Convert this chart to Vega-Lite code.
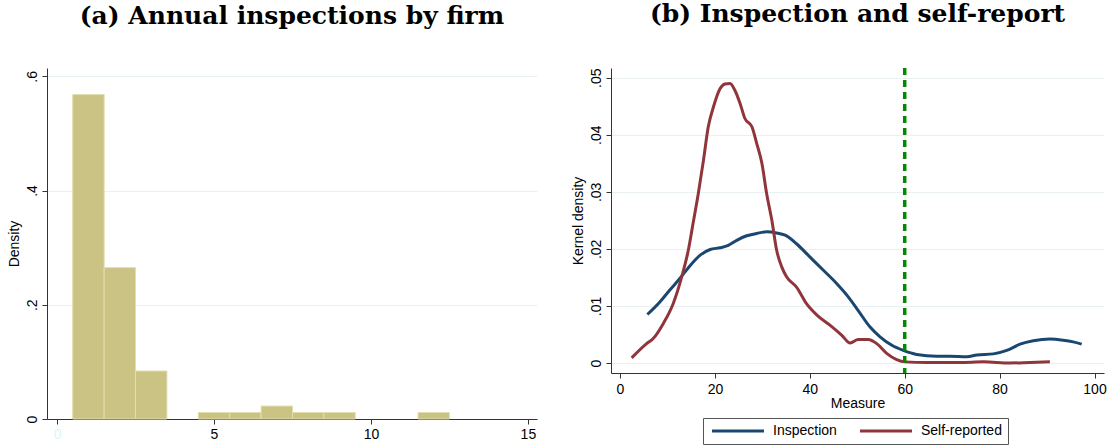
{
  "$schema": "https://vega.github.io/schema/vega-lite/v6.json",
  "background": "white",
  "padding": {"top": 2, "left": 6, "right": 0, "bottom": 0},
  "spacing": 33,
  "config": {
    "view": {"stroke": null},
    "axis": {
      "domainColor": "#333333",
      "tickColor": "#333333",
      "tickSize": 5,
      "labelFont": "Liberation Sans",
      "labelFontSize": 14,
      "labelColor": "#000000",
      "titleFont": "Liberation Sans",
      "titleFontSize": 14,
      "titleFontWeight": "normal",
      "titleColor": "#000000",
      "gridColor": "#e8f0f2",
      "gridWidth": 1.2
    },
    "title": {
      "font": "DejaVu Serif",
      "fontSize": 25,
      "fontWeight": "bold",
      "color": "#000000",
      "offset": 39,
      "baseline": "alphabetic",
      "anchor": "middle"
    }
  },
  "hconcat": [
    {
      "title": {"text": "(a) Annual inspections by firm"},
      "width": 490,
      "height": 351,
      "data": {
        "values": [
          {"bin_start": 0.5, "bin_end": 1.5, "density": 0.568},
          {"bin_start": 1.5, "bin_end": 2.5, "density": 0.265},
          {"bin_start": 2.5, "bin_end": 3.5, "density": 0.084},
          {"bin_start": 4.5, "bin_end": 5.5, "density": 0.0114},
          {"bin_start": 5.5, "bin_end": 6.5, "density": 0.0114},
          {"bin_start": 6.5, "bin_end": 7.5, "density": 0.0227},
          {"bin_start": 7.5, "bin_end": 8.5, "density": 0.0114},
          {"bin_start": 8.5, "bin_end": 9.5, "density": 0.0114},
          {"bin_start": 11.5, "bin_end": 12.5, "density": 0.0114}
        ]
      },
      "mark": {"type": "rect", "fill": "#cac383", "stroke": "#e2dead", "strokeWidth": 1},
      "encoding": {
        "x": {
          "field": "bin_start",
          "type": "quantitative",
          "scale": {"domain": [-0.32, 15.29], "nice": false, "zero": false},
          "axis": {
            "values": [0, 5, 10, 15],
            "grid": false,
            "title": null,
            "labelPadding": 3,
            "labelColor": {"condition": {"test": "datum.value == 0", "value": "#d8f8f8"}, "value": "#000000"}
          }
        },
        "x2": {"field": "bin_end"},
        "y": {
          "field": "density",
          "type": "quantitative",
          "scale": {"domain": [0, 0.6145], "nice": false},
          "axis": {
            "values": [0, 0.2, 0.4, 0.6],
            "grid": true,
            "title": "Density",
            "titlePadding": 4,
            "labelAngle": 270,
            "labelAlign": "center",
            "labelBaseline": "bottom",
            "labelPadding": 3,
            "labelExpr": "datum.value == 0 ? '0' : substring(format(datum.value, '.2~f'), 1)"
          }
        },
        "y2": {"datum": 0}
      }
    },
    {
      "title": {"text": "(b) Inspection and self-report"},
      "width": 493,
      "height": 305,
      "layer": [
        {
          "data": {
            "values": [
              {"series": "Inspection", "x": 5.76, "y": 0.0085},
              {"series": "Inspection", "x": 8.4, "y": 0.0107},
              {"series": "Inspection", "x": 10.5, "y": 0.0128},
              {"series": "Inspection", "x": 12.6, "y": 0.0148},
              {"series": "Inspection", "x": 14.8, "y": 0.0171},
              {"series": "Inspection", "x": 16.9, "y": 0.0189},
              {"series": "Inspection", "x": 19.0, "y": 0.0199},
              {"series": "Inspection", "x": 21.1, "y": 0.0202},
              {"series": "Inspection", "x": 22.8, "y": 0.0206},
              {"series": "Inspection", "x": 24.6, "y": 0.0215},
              {"series": "Inspection", "x": 26.7, "y": 0.0223},
              {"series": "Inspection", "x": 28.8, "y": 0.0227},
              {"series": "Inspection", "x": 30.9, "y": 0.023},
              {"series": "Inspection", "x": 33.0, "y": 0.0228},
              {"series": "Inspection", "x": 34.8, "y": 0.0224},
              {"series": "Inspection", "x": 37.2, "y": 0.0209},
              {"series": "Inspection", "x": 40.0, "y": 0.0186},
              {"series": "Inspection", "x": 42.8, "y": 0.0163},
              {"series": "Inspection", "x": 45.7, "y": 0.0139},
              {"series": "Inspection", "x": 48.1, "y": 0.0116},
              {"series": "Inspection", "x": 50.2, "y": 0.0092},
              {"series": "Inspection", "x": 52.7, "y": 0.0063},
              {"series": "Inspection", "x": 54.8, "y": 0.0046},
              {"series": "Inspection", "x": 57.3, "y": 0.0031},
              {"series": "Inspection", "x": 59.7, "y": 0.0022},
              {"series": "Inspection", "x": 62.5, "y": 0.0015},
              {"series": "Inspection", "x": 66.7, "y": 0.0012},
              {"series": "Inspection", "x": 69.5, "y": 0.0012},
              {"series": "Inspection", "x": 73.1, "y": 0.0011},
              {"series": "Inspection", "x": 75.2, "y": 0.0014},
              {"series": "Inspection", "x": 78.7, "y": 0.0016},
              {"series": "Inspection", "x": 81.5, "y": 0.0022},
              {"series": "Inspection", "x": 84.3, "y": 0.0033},
              {"series": "Inspection", "x": 87.1, "y": 0.0039},
              {"series": "Inspection", "x": 90.6, "y": 0.0042},
              {"series": "Inspection", "x": 93.4, "y": 0.004},
              {"series": "Inspection", "x": 95.5, "y": 0.0037},
              {"series": "Inspection", "x": 97.3, "y": 0.0033},
              {"series": "Self-reported", "x": 2.46, "y": 0.0009},
              {"series": "Self-reported", "x": 5.6, "y": 0.0034},
              {"series": "Self-reported", "x": 7.0, "y": 0.0043},
              {"series": "Self-reported", "x": 9.1, "y": 0.0069},
              {"series": "Self-reported", "x": 11.2, "y": 0.0104},
              {"series": "Self-reported", "x": 13.0, "y": 0.0151},
              {"series": "Self-reported", "x": 14.4, "y": 0.0198},
              {"series": "Self-reported", "x": 15.4, "y": 0.0245},
              {"series": "Self-reported", "x": 16.5, "y": 0.0297},
              {"series": "Self-reported", "x": 17.6, "y": 0.0356},
              {"series": "Self-reported", "x": 18.6, "y": 0.0414},
              {"series": "Self-reported", "x": 19.7, "y": 0.0449},
              {"series": "Self-reported", "x": 21.1, "y": 0.0481},
              {"series": "Self-reported", "x": 22.1, "y": 0.0489},
              {"series": "Self-reported", "x": 23.2, "y": 0.049},
              {"series": "Self-reported", "x": 24.2, "y": 0.0478},
              {"series": "Self-reported", "x": 25.3, "y": 0.0455},
              {"series": "Self-reported", "x": 26.3, "y": 0.0429},
              {"series": "Self-reported", "x": 27.8, "y": 0.0414},
              {"series": "Self-reported", "x": 28.8, "y": 0.0385},
              {"series": "Self-reported", "x": 29.9, "y": 0.035},
              {"series": "Self-reported", "x": 30.9, "y": 0.0297},
              {"series": "Self-reported", "x": 32.0, "y": 0.025},
              {"series": "Self-reported", "x": 33.0, "y": 0.0198},
              {"series": "Self-reported", "x": 34.1, "y": 0.0168},
              {"series": "Self-reported", "x": 35.1, "y": 0.0151},
              {"series": "Self-reported", "x": 37.2, "y": 0.0133},
              {"series": "Self-reported", "x": 39.3, "y": 0.0104},
              {"series": "Self-reported", "x": 41.5, "y": 0.0084},
              {"series": "Self-reported", "x": 44.3, "y": 0.0066},
              {"series": "Self-reported", "x": 46.7, "y": 0.0049},
              {"series": "Self-reported", "x": 48.5, "y": 0.0035},
              {"series": "Self-reported", "x": 50.2, "y": 0.0041},
              {"series": "Self-reported", "x": 52.3, "y": 0.0041},
              {"series": "Self-reported", "x": 54.1, "y": 0.0034},
              {"series": "Self-reported", "x": 56.2, "y": 0.0017},
              {"series": "Self-reported", "x": 58.3, "y": 0.0006},
              {"series": "Self-reported", "x": 60.1, "y": 0.0002},
              {"series": "Self-reported", "x": 64.6, "y": 0.0001},
              {"series": "Self-reported", "x": 71.7, "y": 0.0001},
              {"series": "Self-reported", "x": 76.6, "y": 0.0002},
              {"series": "Self-reported", "x": 82.2, "y": 0.0},
              {"series": "Self-reported", "x": 86.4, "y": 0.0001},
              {"series": "Self-reported", "x": 90.6, "y": 0.0002}
            ]
          },
          "mark": {"type": "line", "strokeWidth": 3, "interpolate": "monotone"},
          "encoding": {
            "x": {
              "field": "x",
              "type": "quantitative",
              "scale": {"domain": [-1.9, 102], "nice": false, "zero": false},
              "axis": {
                "values": [0, 20, 40, 60, 80, 100],
                "grid": false,
                "title": "Measure",
                "labelPadding": 4,
                "titlePadding": 0
              }
            },
            "y": {
              "field": "y",
              "type": "quantitative",
              "scale": {"domain": [-0.00175, 0.0517], "nice": false, "zero": false},
              "axis": {
                "values": [0, 0.01, 0.02, 0.03, 0.04, 0.05],
                "grid": true,
                "title": "Kernel density",
                "titlePadding": 4,
                "labelAngle": 270,
                "labelAlign": "center",
                "labelBaseline": "bottom",
                "labelPadding": 3,
                "labelExpr": "datum.value == 0 ? '0' : substring(format(datum.value, '.2~f'), 1)"
              }
            },
            "color": {
              "field": "series",
              "type": "nominal",
              "scale": {"domain": ["Inspection", "Self-reported"], "range": ["#1a476f", "#90353b"]},
              "legend": {
                "title": null,
                "orient": "none",
                "legendX": 656,
                "legendY": 350,
                "direction": "horizontal",
                "symbolType": "M-5,0H5",
                "symbolSize": 108,
                "symbolOffset": 22,
                "symbolStrokeWidth": 3,
                "labelFont": "Liberation Sans",
                "labelFontSize": 14,
                "labelColor": "#000000",
                "labelOffset": 28,
                "columnPadding": 17,
                "padding": 6,
                "strokeColor": "#555555",
                "fillColor": "white"
              }
            }
          }
        },
        {
          "data": {"values": [{"cut": 60}]},
          "mark": {"type": "rule", "color": "#008a00", "strokeWidth": 3.5, "strokeDash": [7, 5]},
          "encoding": {
            "x": {"field": "cut", "type": "quantitative"}
          }
        }
      ]
    }
  ]
}
